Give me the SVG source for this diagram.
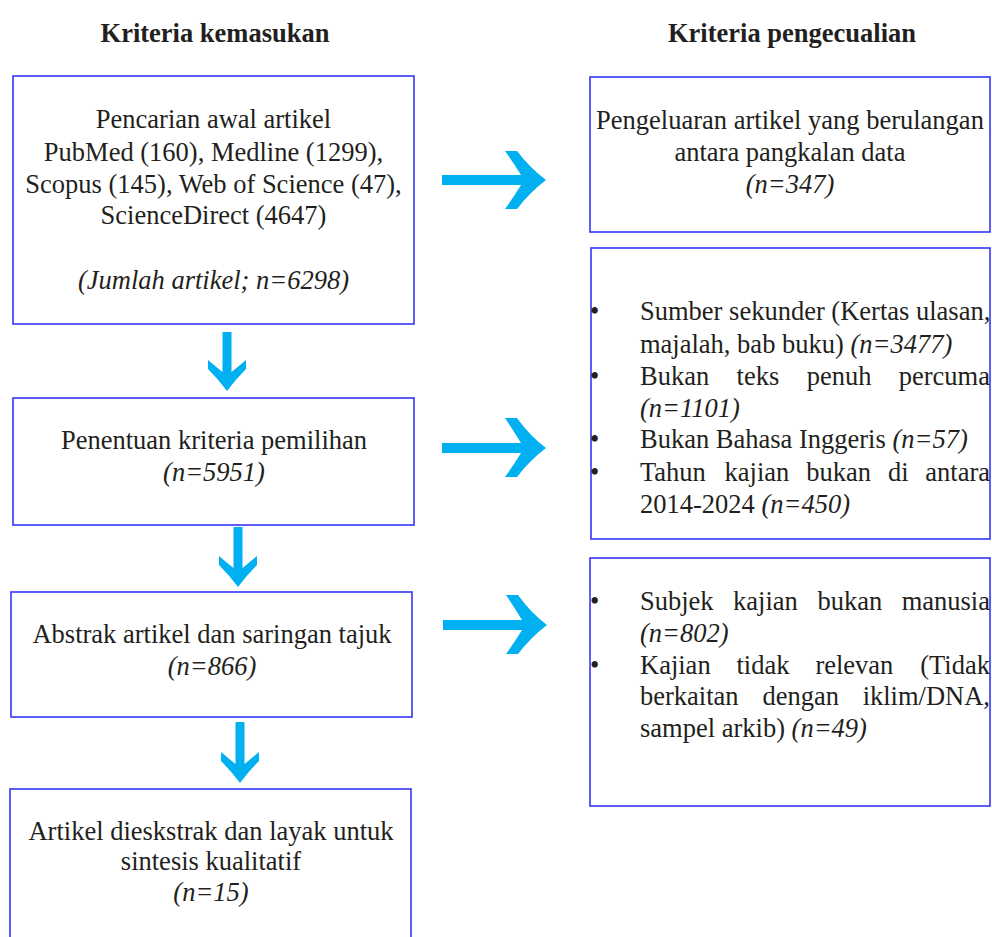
<svg xmlns="http://www.w3.org/2000/svg" width="992" height="937" viewBox="0 0 992 937">
<style>
text{font-family:"Liberation Serif","Times New Roman",serif;font-size:26.5px;fill:#231f20}
.h{font-weight:bold}
.c{text-anchor:middle}
.e{text-anchor:end}
.i{font-style:italic}
.box{fill:#fff;stroke:#3535f5;stroke-width:1.6}
.arr{fill:#00b0f0}
</style>
<rect width="992" height="937" fill="#fff"/>
<g id="headings">
<text class="h c" x="215" y="42">Kriteria kemasukan</text>
<text class="h c" x="792" y="42">Kriteria pengecualian</text>
</g>
<g id="n1">
<rect class="box" x="13" y="76" width="401" height="248"/>
<text class="c" x="213.5" y="128">Pencarian awal artikel</text>
<text class="c" x="213.5" y="161">PubMed (160), Medline (1299),</text>
<text class="c" x="213.5" y="193">Scopus (145), Web of Science (47),</text>
<text class="c" x="213.5" y="224">ScienceDirect (4647)</text>
<text class="c i" x="213.5" y="289">(Jumlah artikel; n=6298)</text>
</g>
<g id="n2">
<rect class="box" x="13" y="398" width="401" height="127"/>
<text class="c" x="214" y="449">Penentuan kriteria pemilihan</text>
<text class="c i" x="214" y="481">(n=5951)</text>
</g>
<g id="n3">
<rect class="box" x="11" y="592" width="401" height="125"/>
<text class="c" x="212" y="643">Abstrak artikel dan saringan tajuk</text>
<text class="c i" x="212" y="675">(n=866)</text>
</g>
<g id="n4">
<rect class="box" x="10" y="789" width="401" height="160"/>
<text class="c" x="211" y="840">Artikel dieskstrak dan layak untuk</text>
<text class="c" x="211" y="870">sintesis kualitatif</text>
<text class="c i" x="211" y="901">(n=15)</text>
</g>
<g id="r1">
<rect class="box" x="590" y="77" width="400" height="155"/>
<text class="c" x="790" y="129">Pengeluaran artikel yang berulangan</text>
<text class="c" x="790" y="161">antara pangkalan data</text>
<text class="c i" x="790" y="193">(n=347)</text>
</g>
<g id="r2">
<rect class="box" x="591" y="248" width="399" height="291"/>
<text x="590" y="320">•</text>
<text x="640" y="320">Sumber sekunder (Kertas ulasan,</text>
<text x="640" y="353">majalah, bab buku) <tspan class="i">(n=3477)</tspan></text>
<text x="590" y="385">•</text>
<text x="640" y="385">Bukan</text><text x="736.6" y="385">teks</text><text x="806.7" y="385">penuh</text><text class="e" x="990" y="385">percuma</text>
<text class="i" x="640" y="417">(n=1101)</text>
<text x="590" y="448">•</text>
<text x="640" y="448">Bukan Bahasa Inggeris <tspan class="i">(n=57)</tspan></text>
<text x="590" y="481">•</text>
<text x="640" y="481">Tahun</text><text x="724.6" y="481">kajian</text><text x="806.2" y="481">bukan</text><text x="887.9" y="481">di</text><text class="e" x="990" y="481">antara</text>
<text x="640" y="513">2014-2024 <tspan class="i">(n=450)</tspan></text>
</g>
<g id="r3">
<rect class="box" x="590" y="558" width="400" height="248"/>
<text x="590" y="610">•</text>
<text x="640" y="610">Subjek</text><text x="733.1" y="610">kajian</text><text x="817.4" y="610">bukan</text><text class="e" x="990" y="610">manusia</text>
<text class="i" x="640" y="642">(n=802)</text>
<text x="590" y="674">•</text>
<text x="640" y="674">Kajian</text><text x="736.5" y="674">tidak</text><text x="815.4" y="674">relevan</text><text class="e" x="990" y="674">(Tidak</text>
<text x="640" y="705">berkaitan</text><text x="762.4" y="705">dengan</text><text class="e" x="990" y="705">iklim/DNA,</text>
<text x="640" y="737">sampel arkib) <tspan class="i">(n=49)</tspan></text>
</g>
<g id="connectors">
<path class="arr" d="M442,175 L521,175 Q513,162 505,151 L517,151 Q530,168 546,180 Q530,192 517,209 L505,209 Q513,198 521,185 L442,185 Z"/>
<path class="arr" d="M442,443 L521,443 Q513,430 505,418 L517,418 Q530,436 546,448 Q530,460 517,477 L505,477 Q513,466 521,453 L442,453 Z"/>
<path class="arr" d="M443,620 L522,620 Q514,607 506,595 L518,595 Q531,613 547,625 Q531,637 518,654 L506,654 Q514,643 522,630 L443,630 Z"/>
<path class="arr" d="M222.5,332 L222.5,372 Q215,366 208,360 L208,369 Q219,380 227,391 Q235,380 246,369 L246,360 Q239,366 231.5,372 L231.5,332 Z"/>
<path class="arr" d="M233.5,527 L233.5,568 Q226,562 219,556 L219,565 Q230,576 238,587 Q246,576 257,565 L257,556 Q250,562 242.5,568 L242.5,527 Z"/>
<path class="arr" d="M235.5,722 L235.5,764 Q228,758 221,752 L221,761 Q232,772 240,783 Q248,772 259,761 L259,752 Q252,758 244.5,764 L244.5,722 Z"/>
</g>
</svg>
